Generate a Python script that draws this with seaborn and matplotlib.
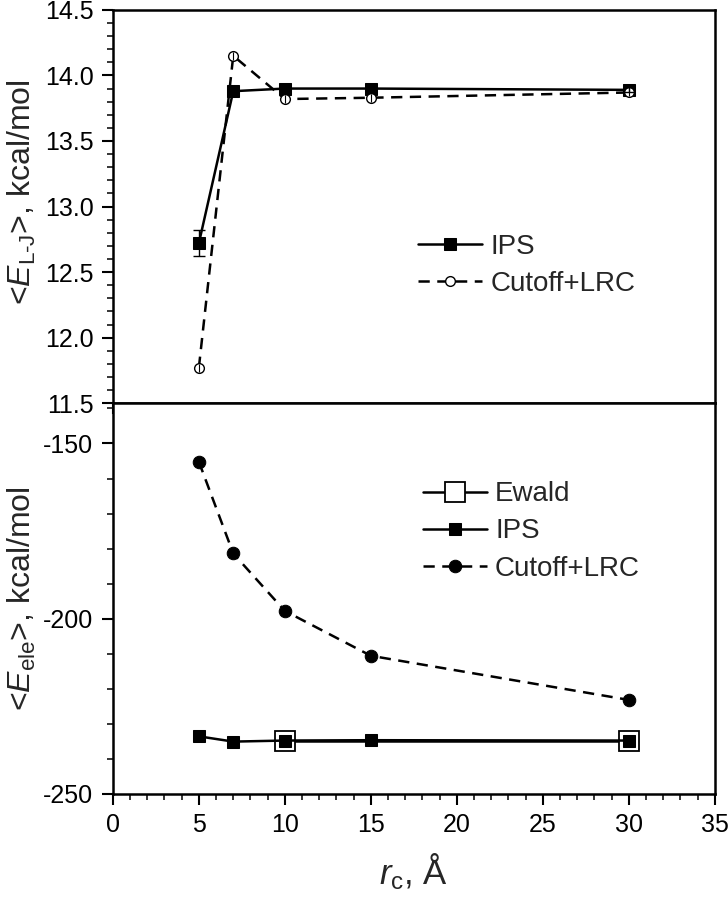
import numpy as np
import pandas as pd
import matplotlib
matplotlib.use('Agg')
import matplotlib.pyplot as plt
from matplotlib.ticker import MultipleLocator
import seaborn as sns

# --- data ---
rc = [5, 7, 10, 15, 30]

lj_ips = [12.72, 13.88, 13.90, 13.90, 13.89]
lj_ips_err = [0.10, 0.02, 0.02, 0.02, 0.02]
lj_cut = [11.77, 14.15, 13.82, 13.83, 13.87]
lj_cut_err = [0.03, 0.03, 0.03, 0.03, 0.03]

ele_ewald_rc = [10, 30]
ele_ewald = [-234.8, -234.8]
ele_ips = [-233.6, -235.1, -234.8, -234.7, -234.8]
ele_cut = [-155.2, -181.4, -197.8, -210.6, -223.2]

sns.set_theme(style="ticks")
plt.rcParams['font.family'] = ['Liberation Sans', 'DejaVu Sans']
plt.rcParams['mathtext.fontset'] = 'custom'
plt.rcParams['mathtext.rm'] = 'Liberation Sans'
plt.rcParams['mathtext.it'] = 'Liberation Sans:italic'
plt.rcParams['axes.unicode_minus'] = False

DASH = (0, (4.5, 3))
LEG = dict(loc='upper left', frameon=False, fontsize=20, handlelength=2.3,
           handletextpad=0.3, labelspacing=0.4, borderpad=0, borderaxespad=0)

fig = plt.figure(figsize=(7.28, 9.0), dpi=100)
ax1 = fig.add_axes([0.155, 0.552, 0.827, 0.437])
ax2 = fig.add_axes([0.155, 0.118, 0.827, 0.434])

df_lj = pd.DataFrame({'rc': rc, 'ips': lj_ips, 'cut': lj_cut})
df_ele = pd.DataFrame({'rc': rc, 'ips': ele_ips, 'cut': ele_cut})
df_ew = pd.DataFrame({'rc': ele_ewald_rc, 'ewald': ele_ewald})

# --- top panel: Lennard-Jones ---
sns.lineplot(data=df_lj, x='rc', y='ips', ax=ax1, color='black', lw=1.8,
             marker='s', markersize=8, markeredgecolor='black', label='IPS')
sns.lineplot(data=df_lj, x='rc', y='cut', ax=ax1, color='black', lw=1.8,
             linestyle=DASH, marker='o', markersize=7,
             markerfacecolor='white', markeredgecolor='black',
             markeredgewidth=1.0, label='Cutoff+LRC')
ax1.errorbar(rc, lj_ips, yerr=lj_ips_err, fmt='none', ecolor='black',
             elinewidth=1.0, capsize=4)
ax1.errorbar(rc, lj_cut, yerr=lj_cut_err, fmt='none', ecolor='black',
             elinewidth=0.8, capsize=0)

ax1.set_xlim(0, 35)
ax1.set_ylim(11.5, 14.5)
ax1.xaxis.set_major_locator(MultipleLocator(5))
ax1.xaxis.set_minor_locator(MultipleLocator(1))
ax1.set_yticks(np.arange(11.5, 14.51, 0.5))
ax1.set_yticklabels([f'{v:.1f}' for v in np.arange(11.5, 14.51, 0.5)])
ax1.yaxis.set_minor_locator(MultipleLocator(0.1))
ax1.tick_params(axis='x', labelbottom=False)
ax1.set_xlabel('')
ax1.set_ylabel(r'<$E_{\mathrm{L\text{-}J}}$>, kcal/mol', fontsize=23)
ax1.yaxis.set_label_coords(-0.125, 0.537)
ax1.legend(bbox_to_anchor=(0.507, 0.43), **LEG)

# --- bottom panel: electrostatics ---
sns.lineplot(data=df_ew, x='rc', y='ewald', ax=ax2, color='black', lw=1.8,
             marker='s', markersize=15, markerfacecolor='white',
             markeredgecolor='black', markeredgewidth=1.3, label='Ewald')
sns.lineplot(data=df_ele, x='rc', y='ips', ax=ax2, color='black', lw=1.8,
             marker='s', markersize=8, markeredgecolor='black', label='IPS')
sns.lineplot(data=df_ele, x='rc', y='cut', ax=ax2, color='black', lw=1.8,
             linestyle=DASH, marker='o', markersize=9,
             markeredgecolor='black', label='Cutoff+LRC')

ax2.set_xlim(0, 35)
ax2.set_ylim(-250, -138.5)
ax2.yaxis.set_major_locator(MultipleLocator(50))
ax2.yaxis.set_minor_locator(MultipleLocator(10))
ax2.xaxis.set_major_locator(MultipleLocator(5))
ax2.xaxis.set_minor_locator(MultipleLocator(1))
ax2.set_xlabel(r'$r_{\mathrm{c}}$, Å', fontsize=25, labelpad=10)
ax2.set_ylabel(r'<$E_{\mathrm{ele}}$>, kcal/mol', fontsize=23)
ax2.yaxis.set_label_coords(-0.125, 0.5)
ax2.legend(bbox_to_anchor=(0.515, 0.80), **LEG)

for ax in (ax1, ax2):
    for s in ax.spines.values():
        s.set_linewidth(1.8)
        s.set_color('black')
    ax.tick_params(which='major', direction='out', length=8, width=1.5,
                   labelsize=18, colors='black', right=False, top=False, pad=6)
    ax.tick_params(which='minor', direction='out', length=4.5, width=1.3,
                   right=False, top=False)
    ax.grid(False)

fig.savefig('out.png', dpi=100)
